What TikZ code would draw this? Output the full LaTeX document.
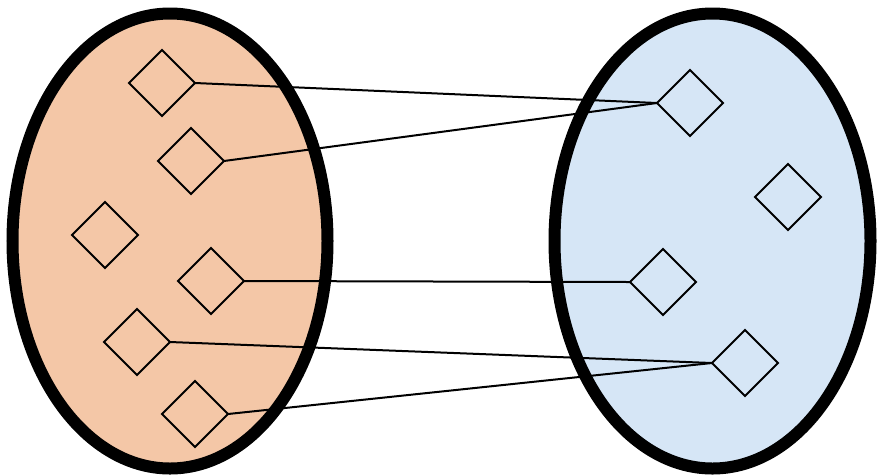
\documentclass[tikz,border=0pt]{standalone}
\usetikzlibrary{shapes.geometric}
\definecolor{setorange}{RGB}{244,199,167}
\definecolor{setblue}{RGB}{214,230,246}
\tikzset{
  elem/.style={diamond,draw,line width=2pt,minimum size=66pt,inner sep=0pt,outer sep=0pt},
  link/.style={line width=2pt}
}
\begin{document}
\begin{tikzpicture}[x=1pt,y=-1pt]
      \useasboundingbox (0,0) rectangle (877,475);

      \draw[line width=12pt,fill=setorange] (170,241) ellipse (157.5 and 227.5);
      \draw[line width=12pt,fill=setblue] (712.5,241) ellipse (158 and 227.5);

      \node[elem] (a1) at (162,83) {};
      \node[elem] (a2) at (191,161) {};
      \node[elem] (a3) at (105,235) {};
      \node[elem] (a4) at (211,281) {};
      \node[elem] (a5) at (137,342) {};
      \node[elem] (a6) at (195,414) {};

      \node[elem] (b1) at (690,103) {};
      \node[elem] (b2) at (788,197) {};
      \node[elem] (b3) at (663,282) {};
      \node[elem] (b4) at (745,363) {};

      \draw[link] (a1.east) -- (b1.west);
      \draw[link] (a2.east) -- (b1.west);
      \draw[link] (a4.east) -- (b3.west);
      \draw[link] (a5.east) -- (b4.west);
      \draw[link] (a6.east) -- (b4.west);
    \end{tikzpicture}
\end{document}
